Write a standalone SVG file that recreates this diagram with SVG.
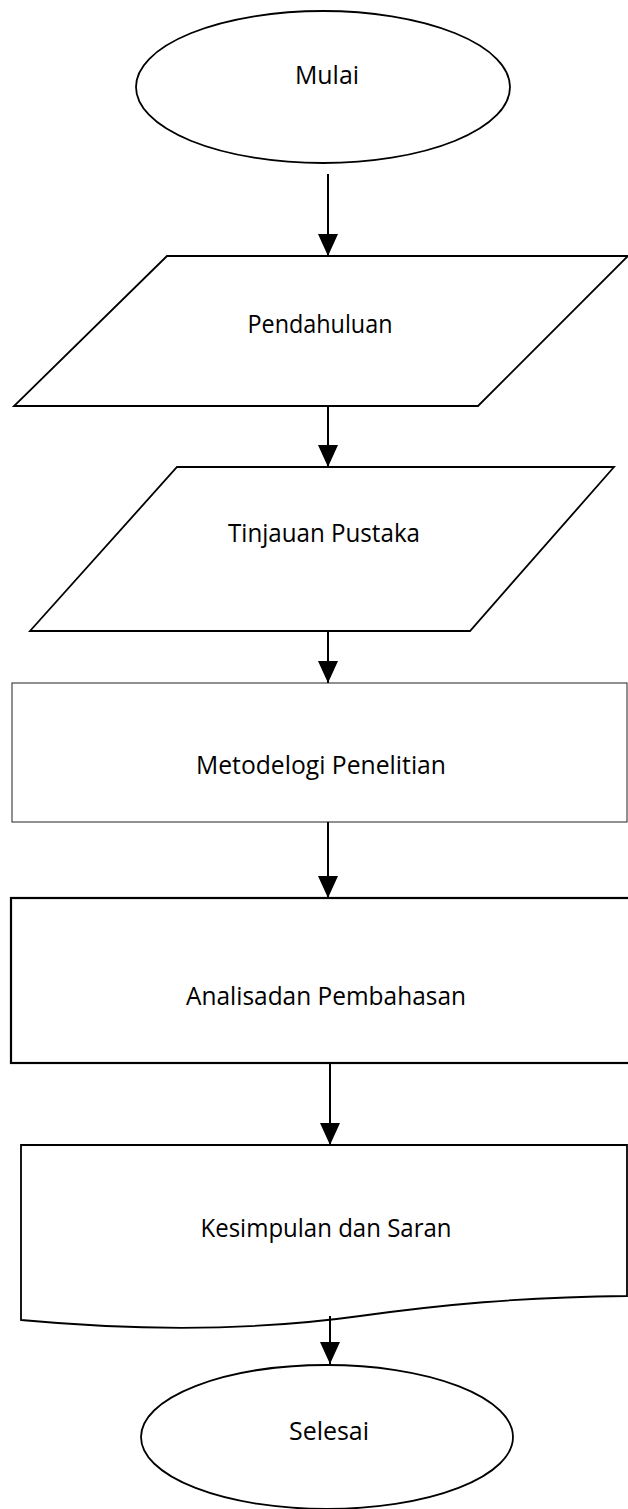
<svg xmlns="http://www.w3.org/2000/svg" width="628" height="1509" viewBox="0 0 628 1509">
<defs>
<style>
.s{fill:#fff;stroke:#000;stroke-width:1.8}
.t{font-family:"Open Sans","Noto Sans",sans-serif;font-size:26px;fill:#000;text-anchor:middle}
.c{stroke:#000;stroke-width:2;fill:none}
</style>
<marker id="ah" markerWidth="22" markerHeight="20" viewBox="0 0 22 20" refX="22" refY="10" orient="auto" markerUnits="userSpaceOnUse">
<path d="M0,0 L22,10 L0,20 Z" fill="#000"/>
</marker>
</defs>
<g id="n-mulai">
<ellipse class="s" cx="323" cy="87" rx="187" ry="76"/>
<text class="t" x="327" y="84" textLength="64" lengthAdjust="spacingAndGlyphs">Mulai</text>
</g>
<g id="n-pendahuluan">
<polygon class="s" points="167,256 628,256 478,406 14,406"/>
<text class="t" x="320" y="333" textLength="145" lengthAdjust="spacingAndGlyphs">Pendahuluan</text>
</g>
<g id="n-tinjauan">
<polygon class="s" points="177,467 614,467 470,631 30,631"/>
<text class="t" x="324" y="542" textLength="192" lengthAdjust="spacingAndGlyphs">Tinjauan Pustaka</text>
</g>
<g id="n-metodelogi">
<rect x="12" y="683" width="615" height="139" fill="#fff" stroke="#222" stroke-width="1"/>
<text class="t" x="321" y="774" textLength="250" lengthAdjust="spacingAndGlyphs">Metodelogi Penelitian</text>
</g>
<g id="n-analisa">
<rect x="11" y="898" width="620" height="165" fill="#fff" stroke="#000" stroke-width="2.2"/>
<text class="t" x="326" y="1005" textLength="280" lengthAdjust="spacingAndGlyphs">Analisadan Pembahasan</text>
</g>
<g id="n-kesimpulan">
<path class="s" d="M21,1145 L627,1145 L627,1296 C520,1297 440,1305 360,1316 C260,1330 150,1332 21,1320 Z"/>
<text class="t" x="326" y="1237" textLength="251" lengthAdjust="spacingAndGlyphs">Kesimpulan dan Saran</text>
</g>
<g id="n-selesai">
<ellipse class="s" cx="327" cy="1437" rx="186" ry="72"/>
<text class="t" x="329" y="1440" textLength="80" lengthAdjust="spacingAndGlyphs">Selesai</text>
</g>
<g id="connectors">
<line class="c" x1="328" y1="174" x2="328" y2="256" marker-end="url(#ah)"/>
<line class="c" x1="328" y1="406" x2="328" y2="467" marker-end="url(#ah)"/>
<line class="c" x1="328" y1="631" x2="328" y2="683" marker-end="url(#ah)"/>
<line class="c" x1="328" y1="822" x2="328" y2="898" marker-end="url(#ah)"/>
<line class="c" x1="330" y1="1063" x2="330" y2="1145" marker-end="url(#ah)"/>
<line class="c" x1="330" y1="1316" x2="330" y2="1364" marker-end="url(#ah)"/>
</g>
</svg>
